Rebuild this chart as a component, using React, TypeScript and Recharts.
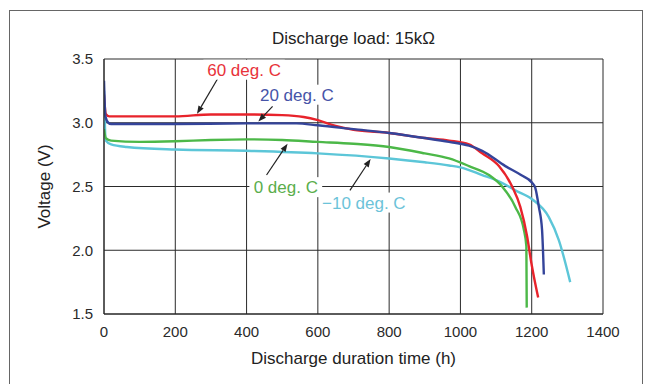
import React from "react";
import {
  LineChart,
  Line,
  XAxis,
  YAxis,
  CartesianGrid,
  ReferenceLine,
  ReferenceDot,
} from "recharts";

// ---- Data ----
const hours60 = [0, 5, 15, 100, 200, 300, 400, 500, 560, 600, 650, 700, 800, 900, 968, 1024, 1061, 1108, 1145, 1168, 1187, 1199, 1218];
const volts60 = [3.22, 3.07, 3.05, 3.05, 3.05, 3.065, 3.065, 3.06, 3.045, 3.02, 2.975, 2.945, 2.92, 2.88, 2.86, 2.83, 2.76, 2.66, 2.5, 2.34, 2.11, 1.9, 1.63];

const hours20 = [0, 4, 12, 20, 200, 400, 540, 600, 700, 800, 900, 968, 1024, 1061, 1126, 1170, 1201, 1210, 1220, 1229, 1234];
const volts20 = [3.33, 3.05, 3.0, 2.99, 2.99, 2.995, 2.995, 2.98, 2.95, 2.92, 2.88, 2.85, 2.82, 2.78, 2.66, 2.59, 2.53, 2.49, 2.34, 2.16, 1.81];

const hours0 = [0, 5, 20, 100, 200, 300, 400, 500, 600, 700, 800, 900, 968, 1024, 1080, 1117, 1154, 1178, 1185, 1186];
const volts0 = [2.95, 2.88, 2.86, 2.85, 2.855, 2.865, 2.87, 2.865, 2.85, 2.835, 2.81, 2.76, 2.72, 2.66, 2.59, 2.5, 2.34, 2.16, 2.03, 1.55];

const hoursM10 = [0, 5, 20, 64, 200, 400, 600, 800, 900, 968, 1000, 1061, 1108, 1154, 1201, 1248, 1276, 1308];
const voltsM10 = [3.25, 2.86, 2.83, 2.81, 2.79, 2.78, 2.76, 2.72, 2.69, 2.665, 2.65, 2.59, 2.54, 2.47, 2.4, 2.26, 2.08, 1.75];

const xTicks = [0, 200, 400, 600, 800, 1000, 1200, 1400];
const yTicks = [1.5, 2.0, 2.5, 3.0, 3.5];

const titleText = "Discharge load: 15k\u03A9";
const xLabel = "Discharge duration time (h)";
const yLabel = "Voltage (V)";

// label: [text, hour, volt]
const labelTexts = ["60 deg. C", "20 deg. C", "0 deg. C", "\u221210 deg. C"];
const labelHours = [393, 541, 510, 729];
const labelVolts = [3.416, 3.22, 2.495, 2.374];

// arrows: tail -> head
const arrowTailH = [320, 473, 456, 690];
const arrowTailV = [3.351, 3.128, 2.59, 2.47];
const arrowHeadH = [261, 433, 515, 748];
const arrowHeadV = [3.07, 3.01, 2.835, 2.715];

const colors = ["#e8232b", "#34449a", "#4cb848", "#5cc6d8"];
const labelColors = ["#e8323a", "#4654a8", "#5aae4c", "#6cc3d9"];

const zip = (h: number[], v: number[]) => h.map((x, i) => ({ h: x, v: v[i] }));
const series = [
  { name: "-10", data: zip(hoursM10, voltsM10), color: colors[3] },
  { name: "0", data: zip(hours0, volts0), color: colors[2] },
  { name: "60", data: zip(hours60, volts60), color: colors[0] },
  { name: "20", data: zip(hours20, volts20), color: colors[1] },
];

const FONT = "Arial, 'Liberation Sans', Helvetica, sans-serif";

const ArrowShape = (p: any) => {
  const { x1, y1, x2, y2 } = p;
  if ([x1, y1, x2, y2].some((n) => typeof n !== "number" || isNaN(n))) return null;
  const dx = x2 - x1;
  const dy = y2 - y1;
  const len = Math.sqrt(dx * dx + dy * dy) || 1;
  const ux = dx / len;
  const uy = dy / len;
  const hl = 8;
  const hw = 3;
  const bx = x2 - ux * hl;
  const by = y2 - uy * hl;
  const pts = `${x2},${y2} ${bx - uy * hw},${by + ux * hw} ${bx + uy * hw},${by - ux * hw}`;
  return (
    <g>
      <line x1={x1} y1={y1} x2={bx} y2={by} stroke="#222" strokeWidth={1.2} />
      <polygon points={pts} fill="#222" />
    </g>
  );
};

const makeLabelShape = (text: string, color: string) => (p: any) => {
  const { cx, cy } = p;
  if (typeof cx !== "number" || typeof cy !== "number") return null;
  const w = text.length * 8.6 + 4;
  return (
    <g>
      <rect x={cx - w / 2} y={cy - 10} width={w} height={20} fill="#fff" />
      <text
        x={cx}
        y={cy}
        dy="0.35em"
        textAnchor="middle"
        fontSize={17}
        fontFamily={FONT}
        fill={color}
      >
        {text}
      </text>
    </g>
  );
};

export default function App() {
  return (
    <div style={{ position: "relative", width: 646, height: 376, overflow: "hidden", background: "#fff" }}>
      <div
        style={{
          position: "absolute",
          left: 1,
          top: 2,
          width: 634,
          height: 420,
          border: "1px solid #666",
          boxSizing: "border-box",
        }}
      />
      <div
        style={{
          position: "absolute",
          left: 0,
          right: 0,
          top: 21,
          textAlign: "center",
          fontFamily: FONT,
          fontSize: 17,
          color: "#222",
          paddingLeft: 45,
          boxSizing: "border-box",
          width: 646,
        }}
      >
        <span style={{ position: "absolute", left: 345.5, transform: "translateX(-50%)", whiteSpace: "nowrap" }}>
          {titleText}
        </span>
      </div>
      <div style={{ position: "absolute", left: 0, top: 0 }}>
        <LineChart
          width={646}
          height={376}
          margin={{ top: 51, right: 51, bottom: 40, left: 36 }}
        >
          <CartesianGrid stroke="#2a2a2a" strokeWidth={1} horizontal vertical />
          <XAxis
            dataKey="h"
            type="number"
            domain={[0, 1400]}
            ticks={xTicks}
            allowDataOverflow
            height={30}
            tickLine={false}
            tickSize={0}
            tickMargin={12}
            axisLine={{ stroke: "#222" }}
            tick={{ fontSize: 15, fontFamily: FONT, fill: "#2a2a2a" }}
            label={{
              value: xLabel,
              position: "insideBottom",
              offset: -20,
              fontSize: 17,
              fontFamily: FONT,
              fill: "#222",
            }}
          />
          <YAxis
            type="number"
            domain={[1.5, 3.5]}
            ticks={yTicks}
            allowDataOverflow
            width={60}
            tickLine={false}
            tickSize={0}
            tickMargin={11}
            axisLine={{ stroke: "#222" }}
            tickFormatter={(v: number) => v.toFixed(1)}
            tick={{ fontSize: 15, fontFamily: FONT, fill: "#2a2a2a" }}
            label={{
              value: yLabel,
              angle: -90,
              position: "insideLeft",
              offset: 0,
              dx: 0,
              fontSize: 17,
              fontFamily: FONT,
              fill: "#222",
              style: { textAnchor: "middle" },
            }}
          />
          {series.map((s) => (
            <Line
              key={s.name}
              data={s.data}
              dataKey="v"
              type="monotone"
              stroke={s.color}
              strokeWidth={2.4}
              dot={false}
              activeDot={false}
              isAnimationActive={false}
            />
          ))}
          {labelTexts.map((t, i) => (
            <ReferenceLine
              key={"a" + i}
              segment={[
                { x: arrowTailH[i], y: arrowTailV[i] },
                { x: arrowHeadH[i], y: arrowHeadV[i] },
              ]}
              ifOverflow="visible"
              shape={ArrowShape}
            />
          ))}
          {labelTexts.map((t, i) => (
            <ReferenceDot
              key={"l" + i}
              x={labelHours[i]}
              y={labelVolts[i]}
              r={0}
              ifOverflow="visible"
              shape={makeLabelShape(t, labelColors[i])}
            />
          ))}
        </LineChart>
      </div>
    </div>
  );
}
